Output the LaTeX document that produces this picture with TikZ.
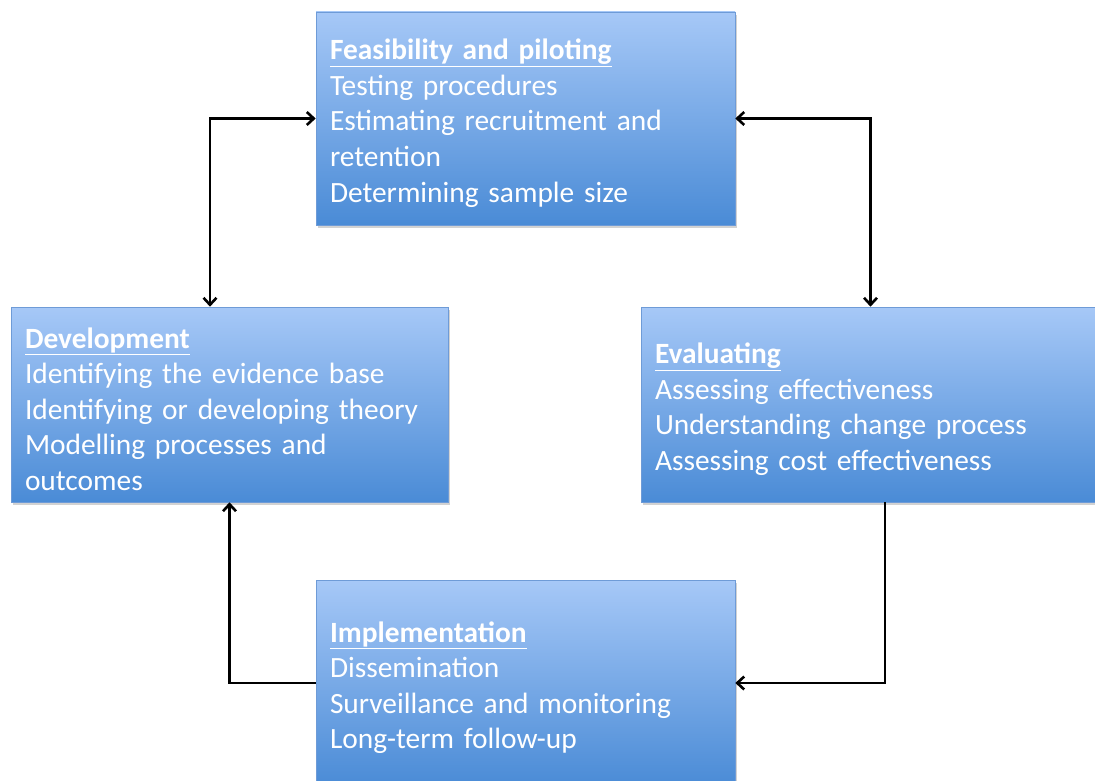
\documentclass[tikz,border=0pt]{standalone}
\usepackage{fontspec}
\setmainfont{Carlito}
\usetikzlibrary{arrows.meta,shadows}

\definecolor{stagetop}{RGB}{166,200,247}
\definecolor{stagebot}{RGB}{74,139,214}
\definecolor{stageedge}{RGB}{110,155,215}

\tikzset{
  stage/.style = {rectangle, top color=stagetop, bottom color=stagebot, draw=stageedge,
    line width=0.6pt, text=white, align=left, inner xsep=14pt, inner ysep=0pt,
    font=\fontsize{29.4}{35.6}\selectfont,
    drop shadow={opacity=0.35, shadow xshift=1.5pt, shadow yshift=-3pt}},
  link/.style = {line width=2.6pt, black, -{Straight Barb[length=7pt,width=13pt]}},
  twolink/.style = {link, {Straight Barb[length=7pt,width=13pt]}-{Straight Barb[length=7pt,width=13pt]}}
}

\newcommand{\stagehead}[1]{\rule{0pt}{30pt}\underline{\textbf{#1}}}

\begin{document}
\begin{tikzpicture}[x=1pt, y=-1pt]
	\useasboundingbox[fill=white] (0,0) rectangle (1095,781);

	\node[stage, text width=391pt, minimum height=213pt] (feas) at (525.5,118.5)
		{\stagehead{Feasibility and piloting}\\ Testing procedures\\ Estimating recruitment and\\ retention\\ Determining sample size};
	\node[stage, text width=409pt, minimum height=195pt] (dev) at (229.5,404.5)
		{\stagehead{Development}\\ Identifying the evidence base\\ Identifying or developing theory\\ Modelling processes and\\ outcomes};
	\node[stage, text width=431pt, minimum height=195pt] (eval) at (870.5,404.5)
		{\stagehead{Evaluating}\\ Assessing effectiveness\\ Understanding change process\\ Assessing cost effectiveness};
	\node[stage, text width=391pt, minimum height=206pt] (impl) at (525.5,683)
		{\stagehead{Implementation}\\ Dissemination\\ Surveillance and monitoring\\ Long-term follow-up};

	\draw[twolink] (feas.west) -| ([xshift=-19.5pt]dev.north);
	\draw[twolink] (feas.east) -| (eval.north);
	\draw[link] ([xshift=14.5pt]eval.south) |- (impl.east);
	\draw[link] (impl.west) -| (dev.south);

\end{tikzpicture}
\end{document}
